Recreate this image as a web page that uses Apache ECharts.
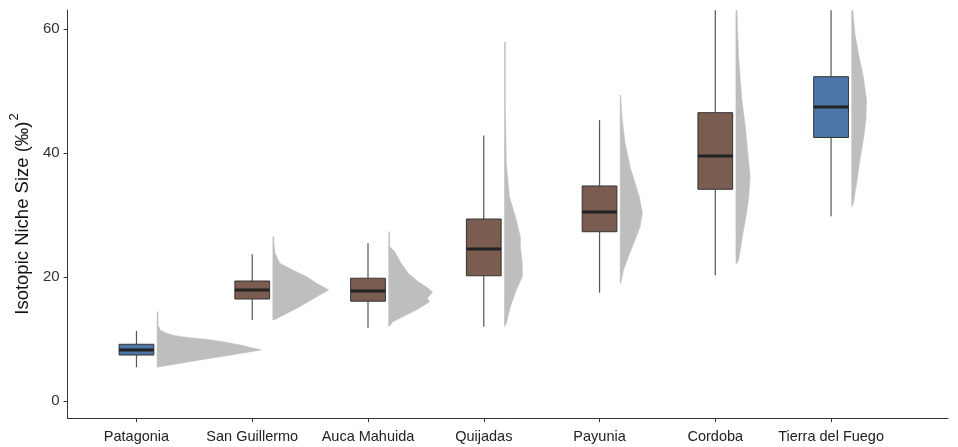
<!DOCTYPE html>
<html>
<head>
<meta charset="utf-8">
<script src="https://cdn.jsdelivr.net/npm/echarts@6.0.0/dist/echarts.min.js"></script>
<style>
  html, body { margin: 0; padding: 0; background: #fff; }
  #chart { width: 958px; height: 447px; }
</style>
</head>
<body>
<div id="chart"></div>
<script>
const categories = ['Patagonia', 'San Guillermo', 'Auca Mahuida', 'Quijadas', 'Payunia', 'Cordoba', 'Tierra del Fuego'];
const yTicks = [0, 20, 40, 60];

// box statistics
const lowerWhisker = [5.45, 13.06, 11.82, 11.98, 17.47, 20.3, 29.8];
const q1 = [7.42, 16.45, 16.1, 20.2, 27.3, 34.15, 42.5];
const median = [8.23, 17.9, 17.74, 24.5, 30.48, 39.5, 47.4];
const q3 = [9.15, 19.35, 19.8, 29.35, 34.68, 46.5, 52.3];
const upperWhisker = [11.3, 23.66, 25.44, 42.8, 45.3, 63, 63];

// half violin outlines: niche size values and density width (in category units)
const densityValues = [
  [5.45, 6.6, 7.4, 8.23, 9.03, 9.57, 9.95, 10.2, 10.5, 10.9, 11.45, 12.0, 12.1, 14.4],
  [13.06, 13.87, 15.2, 16.82, 17.9, 18.98, 20.05, 21.13, 22.2, 23.82, 25.44, 26.5],
  [12.1, 12.8, 13.87, 14.95, 16.0, 16.55, 17.6, 18.4, 19.25, 20.6, 22.2, 24.1, 24.9, 27.3],
  [12.0, 12.5, 15.2, 17.9, 20.05, 22.2, 24.9, 26.5, 29.2, 33.0, 38.4, 47.5, 57.9],
  [19.0, 21.1, 23.3, 26.0, 28.1, 30.3, 32.95, 35.1, 37.8, 41.6, 45.9, 49.35],
  [22.2, 22.7, 26.0, 29.2, 32.4, 36.2, 40.5, 44.2, 48.5, 55.5, 63],
  [31.3, 31.9, 35.1, 38.9, 42.1, 45.3, 48.5, 52.3, 56.1, 59.3, 63]
];
const densityWidths = [
  [0, 0.37, 0.63, 0.90, 0.72, 0.57, 0.43, 0.28, 0.17, 0.086, 0.026, 0.017, 0.009, 0.009],
  [0.009, 0.095, 0.233, 0.379, 0.483, 0.379, 0.293, 0.172, 0.06, 0.02, 0.009, 0.009],
  [0.009, 0.037, 0.153, 0.267, 0.353, 0.334, 0.379, 0.328, 0.256, 0.17, 0.109, 0.052, 0.009, 0.009],
  [0, 0.017, 0.052, 0.103, 0.155, 0.155, 0.138, 0.138, 0.103, 0.043, 0.017, 0.009, 0.009],
  [0.006, 0.028, 0.072, 0.129, 0.172, 0.192, 0.166, 0.129, 0.086, 0.043, 0.015, 0.005],
  [0.009, 0.023, 0.052, 0.082, 0.109, 0.123, 0.101, 0.082, 0.052, 0.023, 0.009],
  [0, 0.015, 0.043, 0.072, 0.101, 0.123, 0.129, 0.101, 0.058, 0.028, 0.009]
];

const blueSites = ['Patagonia', 'Tierra del Fuego'];
const BOX_HALF = 0.15;
const VIOLIN_OFFSET = 0.178;

const positions = categories.map((_, i) => i + 1);

const chart = echarts.init(document.getElementById('chart'));

function renderViolin(params, api) {
  const idx = params.dataIndex;
  const x = api.value(0) + VIOLIN_OFFSET;
  const vals = densityValues[idx];
  const widths = densityWidths[idx];
  const pts = [api.coord([x, vals[0]])];
  vals.forEach((v, k) => pts.push(api.coord([x + widths[k], v])));
  pts.push(api.coord([x, vals[vals.length - 1]]));
  return {
    type: 'polygon',
    shape: { points: pts },
    style: { fill: '#bebebe', stroke: '#bebebe', lineWidth: 0.5 }
  };
}

function renderBox(params, api) {
  const x = api.value(0);
  const lo = api.coord([x, api.value(1)]);
  const b1 = api.coord([x - BOX_HALF, api.value(2)]);
  const med = api.coord([x, api.value(3)]);
  const b3 = api.coord([x + BOX_HALF, api.value(4)]);
  const hi = api.coord([x, api.value(5)]);
  const fill = blueSites.includes(categories[params.dataIndex]) ? '#4c75a8' : '#7a5c50';
  const whisker = { stroke: '#555', lineWidth: 1.2 };
  return {
    type: 'group',
    children: [
      { type: 'line', shape: { x1: hi[0], y1: hi[1], x2: hi[0], y2: b3[1] }, style: whisker },
      { type: 'line', shape: { x1: lo[0], y1: b1[1], x2: lo[0], y2: lo[1] }, style: whisker },
      {
        type: 'rect',
        shape: { x: b1[0], y: b3[1], width: b3[0] - b1[0], height: b1[1] - b3[1] },
        style: { fill: fill, stroke: '#333', lineWidth: 1 }
      },
      {
        type: 'line',
        shape: { x1: b1[0], y1: med[1], x2: b3[0], y2: med[1] },
        style: { stroke: '#222', lineWidth: 3 }
      }
    ]
  };
}

const option = {
  animation: false,
  grid: { left: 67, right: 10, top: 10, bottom: 29 },
  xAxis: {
    type: 'value',
    min: 0.405,
    max: 8.01,
    splitLine: { show: false },
    axisLine: { onZero: false, lineStyle: { color: '#333', width: 1 } },
    axisTick: { customValues: positions, length: 4, lineStyle: { color: '#333' } },
    axisLabel: {
      customValues: positions,
      formatter: (v) => categories[Math.round(v) - 1],
      fontFamily: 'Liberation Sans, Arial, sans-serif',
      fontSize: 14.5,
      color: '#222',
      margin: 11
    }
  },
  yAxis: {
    type: 'value',
    min: -2.74,
    max: 63.06,
    splitLine: { show: false },
    axisLine: { show: true, onZero: false, lineStyle: { color: '#333', width: 1 } },
    axisTick: { show: true, customValues: yTicks, length: 4, lineStyle: { color: '#333' } },
    axisLabel: {
      customValues: yTicks,
      fontFamily: 'Liberation Sans, Arial, sans-serif',
      fontSize: 15,
      color: '#333',
      margin: 8
    },
    name: '{t|Isotopic Niche Size (‰)}{s|2}',
    nameLocation: 'middle',
    nameGap: 29,
    nameTextStyle: {
      fontFamily: 'Liberation Sans, Arial, sans-serif',
      color: '#111',
      rich: {
        t: { fontSize: 18.5, color: '#111', lineHeight: 24, verticalAlign: 'bottom' },
        s: { fontSize: 13, color: '#111', lineHeight: 24, verticalAlign: 'top', padding: [0, 0, 8, 1] }
      }
    }
  },
  series: [
    {
      name: 'density',
      type: 'custom',
      clip: true,
      renderItem: renderViolin,
      data: positions.map((p) => [p])
    },
    {
      name: 'box',
      type: 'custom',
      clip: true,
      renderItem: renderBox,
      encode: { x: 0, y: [1, 2, 3, 4, 5] },
      data: positions.map((p, i) => [p, lowerWhisker[i], q1[i], median[i], q3[i], upperWhisker[i]])
    }
  ]
};

chart.setOption(option);
</script>
</body>
</html>
